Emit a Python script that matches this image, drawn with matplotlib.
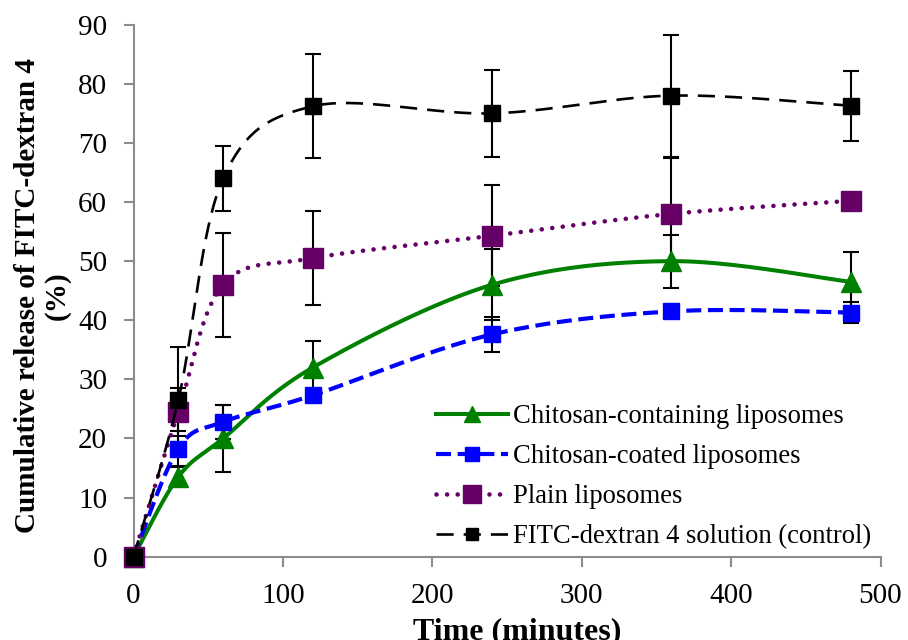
import numpy as np
import matplotlib
matplotlib.use("Agg")
import matplotlib.pyplot as plt

# ---- data ----
time_min = [0, 30, 60, 120, 240, 360, 480]
containing = [0, 13.5, 20.0, 32.0, 46.0, 50.0, 46.5]
containing_err = [0, 1.6, 5.6, 4.5, 6.0, 4.5, 5.1]
coated = [0, 18.3, 22.8, 27.3, 37.6, 41.5, 41.3]
coated_err = [0, 2.9, 2.9, 1.0, 2.9, 0.8, 1.8]
plain = [0, 24.5, 46.0, 50.5, 54.3, 58.0, 60.2]
plain_err = [0, 4.1, 8.8, 7.9, 8.5, 9.5, 0.5]
control = [0, 26.5, 64.0, 76.2, 75.0, 78.0, 76.3]
control_err = [0, 8.9, 5.5, 8.8, 7.4, 10.3, 5.9]

labels = ["Chitosan-containing liposomes", "Chitosan-coated liposomes",
          "Plain liposomes", "FITC-dextran 4 solution (control)"]
x_ticks = [0, 100, 200, 300, 400, 500]
y_ticks = [0, 10, 20, 30, 40, 50, 60, 70, 80, 90]


def smooth(x, y, n=40):
    """Excel-style smoothed line (Catmull-Rom Bezier)."""
    x = np.asarray(x, float)
    y = np.asarray(y, float)
    P = np.column_stack([x, y])
    m = len(P)
    out = []
    t = np.linspace(0, 1, n)[:, None]
    for i in range(m - 1):
        p0 = P[max(i - 1, 0)]
        p1 = P[i]
        p2 = P[i + 1]
        p3 = P[min(i + 2, m - 1)]
        c1 = p1 + (p2 - p0) / 6.0
        c2 = p2 - (p3 - p1) / 6.0
        seg = ((1 - t) ** 3) * p1 + 3 * ((1 - t) ** 2) * t * c1 + 3 * (1 - t) * t ** 2 * c2 + t ** 3 * p2
        out.append(seg if i == 0 else seg[1:])
    out = np.vstack(out)
    return out[:, 0], out[:, 1]


plt.rcParams['font.family'] = ['Liberation Serif', 'DejaVu Serif']

fig = plt.figure(figsize=(9.08, 6.4), dpi=100)
ax = fig.add_axes([133.5 / 908, 1 - 556.7 / 640, (880.5 - 133.5) / 908, (556.7 - 24.7) / 640])

series = [
    dict(y=containing, e=containing_err, color='#008000', ls='-', lw=2.9, marker='^', ms=14),
    dict(y=coated, e=coated_err, color='#0000FF', ls=(0, (3.6, 1.6)), lw=3.0, marker='s', ms=11.5),
    dict(y=plain, e=plain_err, color='#660066', ls=(0, (0.01, 2.3)), lw=3.3, marker='s', ms=15),
    dict(y=control, e=control_err, color='#000000', ls=(0, (6.5, 3.8)), lw=1.9, marker='s', ms=11),
]

# error bars first (under the markers)
for s in series:
    eb = ax.errorbar(time_min, s['y'], yerr=s['e'], fmt='none', ecolor='black',
                     elinewidth=1.5, capsize=5.5, capthick=1.5, zorder=2)
    for art in eb.lines[1] + eb.lines[2]:
        art.set_clip_on(False)

handles = []
for i, s in enumerate(series):
    xs, ys = smooth(time_min, s['y'])
    ax.plot(xs, ys, color=s['color'], linestyle=s['ls'], linewidth=s['lw'],
            dash_capstyle='round' if i == 2 else 'butt', zorder=3 + i, clip_on=False)
    ax.plot(time_min, s['y'], linestyle='none', marker=s['marker'], markersize=s['ms'],
            color=s['color'], markeredgecolor=s['color'], zorder=3.5 + i, clip_on=False)
    h, = ax.plot([], [], color=s['color'], linestyle=s['ls'], linewidth=s['lw'],
                 marker=s['marker'], markersize=s['ms'] * 0.85,
                 dash_capstyle='round' if i == 2 else 'butt')
    handles.append(h)

ax.set_xlim(0, 500)
ax.set_ylim(0, 90)
ax.set_xticks(x_ticks)
ax.set_yticks(y_ticks)
for sp in ['top', 'right']:
    ax.spines[sp].set_visible(False)
for sp in ['left', 'bottom']:
    ax.spines[sp].set_color('#8c8c8c')
    ax.spines[sp].set_linewidth(1.5)
ax.tick_params(axis='both', direction='out', length=7, width=1.5, color='#8c8c8c',
               labelsize=21, pad=12)
ax.tick_params(axis='x', pad=12)

ax.set_xlabel('Time (minutes)', fontsize=23, fontweight='bold')
ax.xaxis.set_label_coords(0.514, -(617 - 556.7) / 532.0)
ax.xaxis.label.set_va('top')
ax.set_ylabel('Cumulative release of FITC-dextran 4\n(%)', fontsize=21,
              fontweight='bold', linespacing=1.12)
ax.yaxis.set_label_coords(-(133.5 - 71) / 747.0, (556.7 - 296) / 532.0)

leg = ax.legend(handles, labels, loc='upper left', bbox_to_anchor=(436 / 908, 1 - 404 / 640),
                bbox_transform=fig.transFigure, frameon=False, fontsize=19.2,
                handlelength=2.7, handletextpad=0.2, labelspacing=0.57, borderpad=0,
                borderaxespad=0, numpoints=1)

fig.savefig('out.png', dpi=100)
